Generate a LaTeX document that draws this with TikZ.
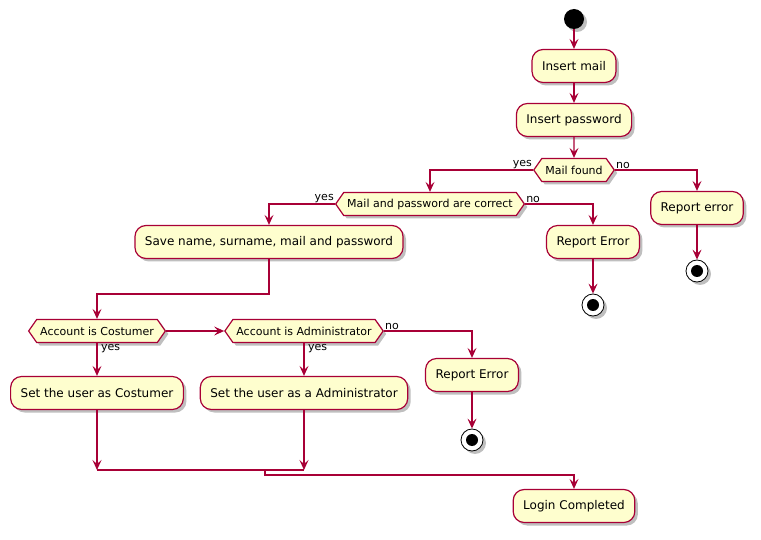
\documentclass[tikz,border=0pt]{standalone}
\usepackage{fontspec}
\setmainfont{DejaVu Sans}
\usetikzlibrary{arrows.meta,shapes.symbols,shadows,calc}

\definecolor{pfill}{HTML}{FEFECE}
\definecolor{pline}{HTML}{A80036}

\begin{document}
\begin{tikzpicture}[x=1pt,y=-1pt,
  softshadow/.style={drop shadow={shadow xshift=3pt,shadow yshift=-3pt,opacity=0.25,fill=black}},
  act/.style={draw=pline,fill=pfill,line width=1.2pt,rounded corners=11pt,minimum height=33pt,inner xsep=10pt,font=\fontsize{12}{14}\selectfont,softshadow},
  cond/.style={signal,signal to=west and east,signal pointer angle=110,draw=pline,fill=pfill,line width=1.2pt,minimum height=23pt,inner xsep=3.5pt,inner ysep=0pt,font=\fontsize{11}{13}\selectfont,softshadow},
  lbl/.style={font=\fontsize{11}{13}\selectfont,inner sep=1pt},
  flow/.style={draw=pline,line width=1.2pt,-{Stealth[length=10pt,width=9pt,inset=4pt]}},
  link/.style={draw=pline,line width=1.2pt},
  startdot/.style={circle,fill=black,minimum size=20pt,inner sep=0pt,softshadow},
  stopdot/.style={circle,draw=black,fill=white,line width=0.8pt,minimum size=22pt,inner sep=0pt,softshadow,
    path picture={\fill[black] (path picture bounding box.center) circle (6pt);}},
]
\useasboundingbox (0,0) rectangle (761,540);

% activities and decisions
\node[startdot] (start) at (574,19) {};
\node[act] (mail) at (574,66) {Insert mail};
\node[act] (pw) at (574,120) {Insert password};
\node[cond] (found) at (574,170) {Mail found};
\node[act] (err1) at (697,208) {Report error};
\node[stopdot] (stop1) at (697,271) {};
\node[cond] (correct) at (430,204) {Mail and password are correct};
\node[act] (save) at (269,242) {Save name, surname, mail and password};
\node[act] (err2) at (593,242) {Report Error};
\node[stopdot] (stop2) at (593,305) {};
\node[cond] (cust) at (97,331) {Account is Costumer};
\node[cond] (adm) at (304,331) {Account is Administrator};
\node[act] (setc) at (97,393) {Set the user as Costumer};
\node[act] (seta) at (304,393) {Set the user as a Administrator};
\node[act] (err3) at (472,375) {Report Error};
\node[stopdot] (stop3) at (472,440) {};
\node[act] (done) at (574,506) {Login Completed};
\coordinate (joinL) at (97,470);
\coordinate (joinR) at (304,470);
\coordinate (joinM) at (265,470);

% control flow
\draw[flow] (start) -- (mail);
\draw[flow] (mail) -- (pw);
\draw[flow] (pw) -- (found);
\draw[flow] (found.west) -| (correct.north);
\draw[flow] (found.east) -| (err1.north);
\node[lbl,anchor=south east] at (found.west) {yes};
\node[lbl,anchor=south west] at (found.east) {no};
\draw[flow] (err1) -- (stop1);

\draw[flow] (correct.west) -| (save.north);
\draw[flow] (correct.east) -| (err2.north);
\node[lbl,anchor=south east] at (correct.west) {yes};
\node[lbl,anchor=south west] at (correct.east) {no};
\draw[flow] (err2) -- (stop2);

\draw[flow] (save.south) -- ++(0,35) -| (cust.north);
\draw[flow] (cust.east) -- (adm.west);
\draw[flow] (cust.south) -- (setc.north);
\node[lbl,anchor=north west,xshift=3pt] at (cust.south) {yes};
\draw[flow] (adm.south) -- (seta.north);
\node[lbl,anchor=north west,xshift=3pt] at (adm.south) {yes};
\draw[flow] (adm.east) -| (err3.north);
\node[lbl,anchor=south west] at (adm.east) {no};
\draw[flow] (err3) -- (stop3);

\draw[flow] (setc.south) -- (joinL);
\draw[flow] (seta.south) -- (joinR);
\draw[link] (joinL) -- (joinR);
\draw[flow] (joinM) -- ++(0,5) -| (done.north);
\end{tikzpicture}
\end{document}
